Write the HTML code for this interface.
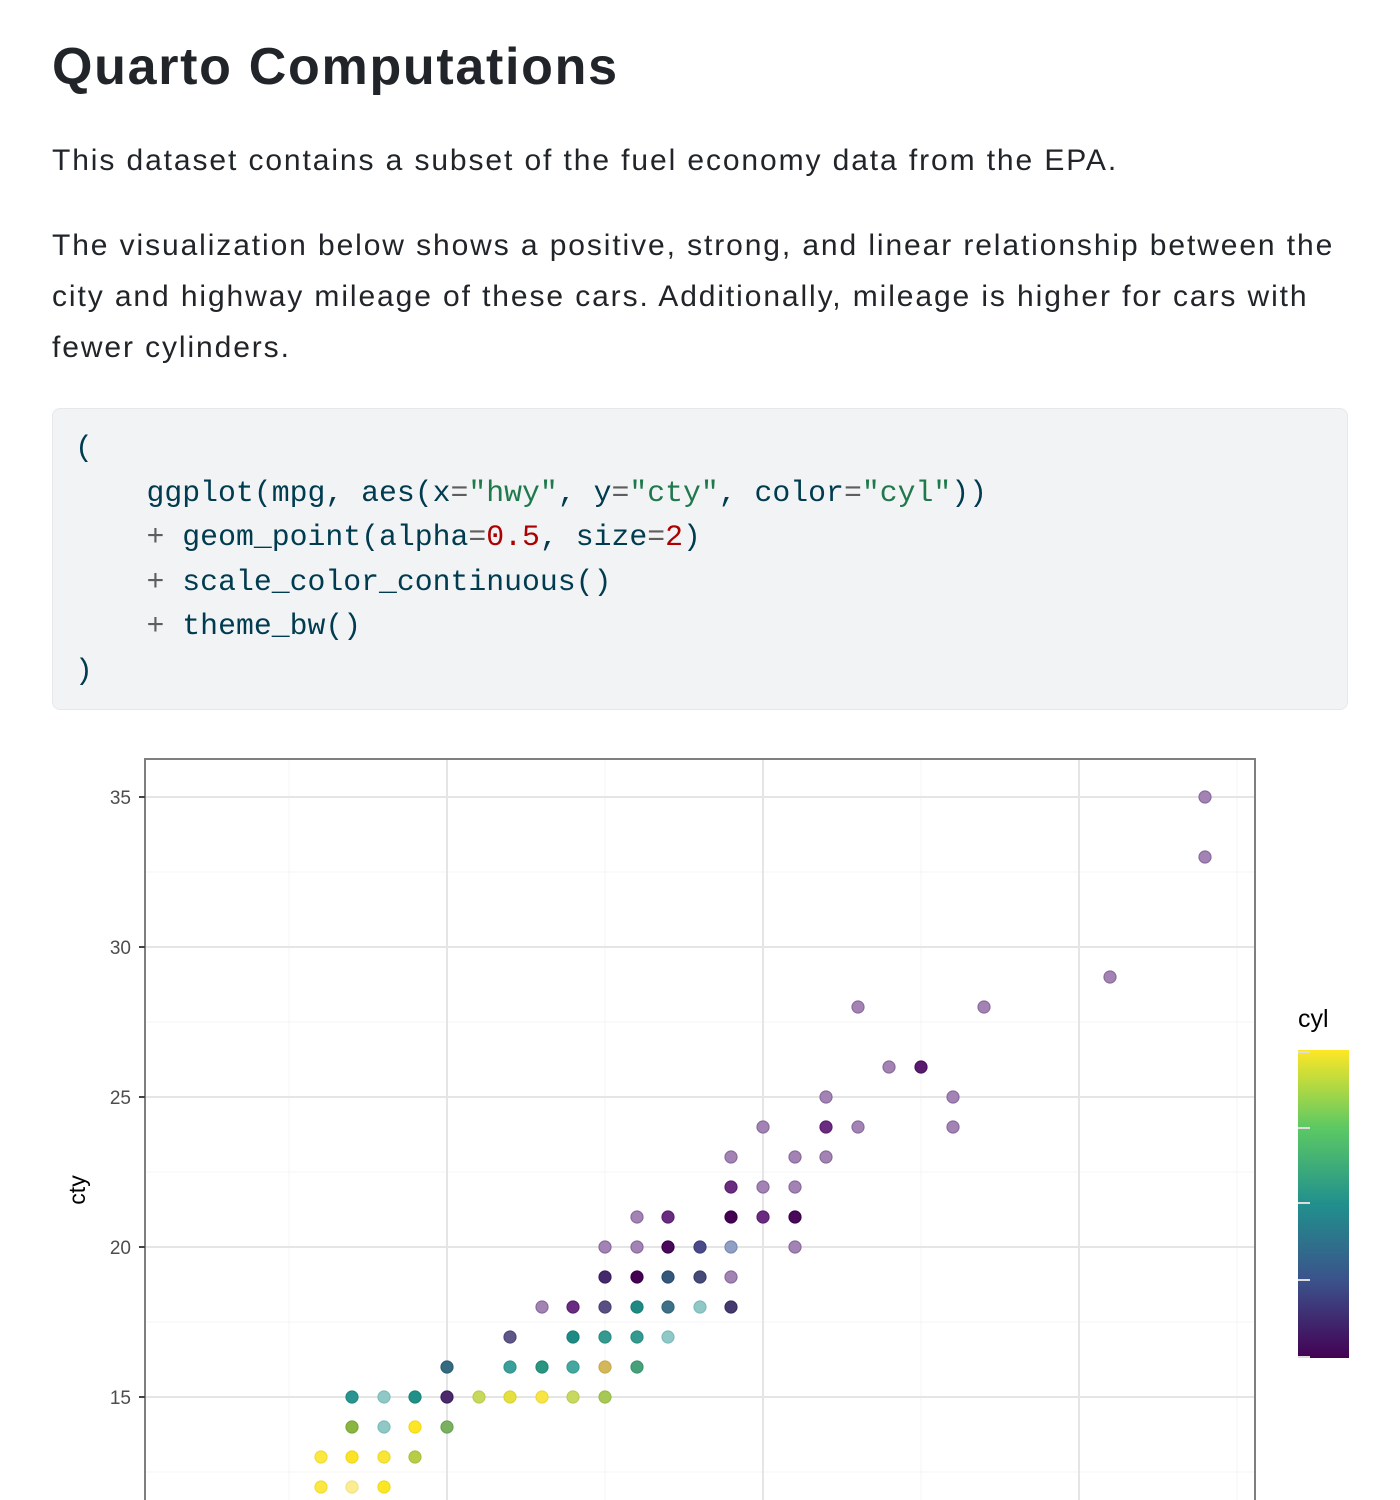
<!DOCTYPE html>
<html><head><meta charset="utf-8"><style>
html,body{margin:0;padding:0;background:#fff;width:1400px;height:1500px;overflow:hidden}
body{font-family:"Liberation Sans",sans-serif;color:#212529;position:relative}
h1{position:absolute;left:52px;top:35px;margin:0;font-size:52px;font-weight:bold;line-height:64px;letter-spacing:1.7px;white-space:nowrap}
p{position:absolute;left:52px;margin:0;font-size:30px;line-height:51px;width:1340px;letter-spacing:1.9px;white-space:nowrap}
.code{position:absolute;left:52px;top:408px;width:1294px;height:300px;background:#f1f3f5;border:1px solid #e6e8ea;border-radius:8px}
pre{margin:0;position:absolute;left:22px;top:17px;font-family:"Liberation Mono",monospace;font-size:29.8px;line-height:44.5px;color:#003b4f}
.s{color:#20794d}.n{color:#ad0000}.o{color:#5e5e5e}
</style></head><body>
<h1>Quarto Computations</h1>
<p style="top:135px">This dataset contains a subset of the fuel economy data from the EPA.</p>
<p style="top:220px">The visualization below shows a positive, strong, and linear relationship between the<br>city and highway mileage of these cars. Additionally, mileage is higher for cars with<br>fewer cylinders.</p>
<div class="code"><pre>(
    ggplot(mpg, aes(x<span class="o">=</span><span class="s">"hwy"</span>, y<span class="o">=</span><span class="s">"cty"</span>, color<span class="o">=</span><span class="s">"cyl"</span>))
    <span class="o">+</span> geom_point(alpha<span class="o">=</span><span class="n">0.5</span>, size<span class="o">=</span><span class="n">2</span>)
    <span class="o">+</span> scale_color_continuous()
    <span class="o">+</span> theme_bw()
)</pre></div>
<svg width="1400" height="1500" style="position:absolute;left:0;top:0" xmlns="http://www.w3.org/2000/svg">
<defs><linearGradient id="vg" x1="0" y1="1" x2="0" y2="0">
<stop offset="0" stop-color="#440154"/><stop offset="0.25" stop-color="#3b528b"/><stop offset="0.5" stop-color="#21908d"/><stop offset="0.75" stop-color="#5dc963"/><stop offset="1" stop-color="#fde725"/></linearGradient></defs>
<g stroke="#f4f4f4" stroke-width="1">
<line x1="145" x2="1255" y1="872" y2="872"/><line x1="145" x2="1255" y1="1022" y2="1022"/><line x1="145" x2="1255" y1="1172" y2="1172"/><line x1="145" x2="1255" y1="1322" y2="1322"/><line x1="145" x2="1255" y1="1472" y2="1472"/>
<line x1="289" x2="289" y1="759" y2="1500"/><line x1="605" x2="605" y1="759" y2="1500"/><line x1="921" x2="921" y1="759" y2="1500"/><line x1="1237" x2="1237" y1="759" y2="1500"/>
</g>
<g stroke="#e5e5e5" stroke-width="2">
<line x1="145" x2="1255" y1="797" y2="797"/><line x1="145" x2="1255" y1="947" y2="947"/><line x1="145" x2="1255" y1="1097" y2="1097"/><line x1="145" x2="1255" y1="1247" y2="1247"/><line x1="145" x2="1255" y1="1397" y2="1397"/>
<line x1="447" x2="447" y1="759" y2="1500"/><line x1="763" x2="763" y1="759" y2="1500"/><line x1="1079" x2="1079" y1="759" y2="1500"/>
</g>
<rect x="145" y="759" width="1110" height="760" fill="none" stroke="#7f7f7f" stroke-width="2"/>
<g stroke="#444" stroke-width="2"><line x1="139" x2="145" y1="797" y2="797"/><line x1="139" x2="145" y1="947" y2="947"/><line x1="139" x2="145" y1="1097" y2="1097"/><line x1="139" x2="145" y1="1247" y2="1247"/><line x1="139" x2="145" y1="1397" y2="1397"/></g>
<g font-family="Liberation Sans,sans-serif" font-size="19" fill="#4d4d4d" text-anchor="end">
<text x="131" y="804">35</text><text x="131" y="954">30</text><text x="131" y="1104">25</text><text x="131" y="1254">20</text><text x="131" y="1404">15</text></g>
<text transform="translate(85,1190) rotate(-90)" font-family="Liberation Sans,sans-serif" font-size="23" text-anchor="middle" fill="#000">cty</text>
<text x="1298" y="1027" font-family="Liberation Sans,sans-serif" font-size="25" fill="#000">cyl</text>
<rect x="1298" y="1050" width="51" height="308" fill="url(#vg)"/>
<g stroke="#ddd" stroke-width="2"><line x1="1298" x2="1310" y1="1128" y2="1128"/><line x1="1298" x2="1310" y1="1203" y2="1203"/><line x1="1298" x2="1310" y1="1280" y2="1280"/><line x1="1298" x2="1310" y1="1052" y2="1052"/><line x1="1298" x2="1310" y1="1357" y2="1357"/></g>
<g stroke-width="1.2">
<circle cx="1205" cy="797" r="6" fill="#a283b4" stroke="#8a6a9c"/>
<circle cx="1205" cy="857" r="6" fill="#a283b4" stroke="#8a6a9c"/>
<circle cx="1110" cy="977" r="6" fill="#a283b4" stroke="#8a6a9c"/>
<circle cx="858" cy="1007" r="6" fill="#a283b4" stroke="#8a6a9c"/>
<circle cx="984" cy="1007" r="6" fill="#a283b4" stroke="#8a6a9c"/>
<circle cx="889" cy="1067" r="6" fill="#a283b4" stroke="#8a6a9c"/>
<circle cx="921" cy="1067" r="6" fill="#5a1a6e" stroke="#4a105e"/>
<circle cx="826" cy="1097" r="6" fill="#a283b4" stroke="#8a6a9c"/>
<circle cx="953" cy="1097" r="6" fill="#a283b4" stroke="#8a6a9c"/>
<circle cx="763" cy="1127" r="6" fill="#a283b4" stroke="#8a6a9c"/>
<circle cx="826" cy="1127" r="6" fill="#6a2c80" stroke="#5a1e70"/>
<circle cx="858" cy="1127" r="6" fill="#a283b4" stroke="#8a6a9c"/>
<circle cx="953" cy="1127" r="6" fill="#a283b4" stroke="#8a6a9c"/>
<circle cx="731" cy="1157" r="6" fill="#a283b4" stroke="#8a6a9c"/>
<circle cx="795" cy="1157" r="6" fill="#a283b4" stroke="#8a6a9c"/>
<circle cx="826" cy="1157" r="6" fill="#a283b4" stroke="#8a6a9c"/>
<circle cx="731" cy="1187" r="6" fill="#6a2c80" stroke="#5a1e70"/>
<circle cx="763" cy="1187" r="6" fill="#a283b4" stroke="#8a6a9c"/>
<circle cx="795" cy="1187" r="6" fill="#a283b4" stroke="#8a6a9c"/>
<circle cx="637" cy="1217" r="6" fill="#a283b4" stroke="#8a6a9c"/>
<circle cx="668" cy="1217" r="6" fill="#6a2c80" stroke="#5a1e70"/>
<circle cx="731" cy="1217" r="6" fill="#440154" stroke="#3a0048"/>
<circle cx="763" cy="1217" r="6" fill="#6a2c80" stroke="#5a1e70"/>
<circle cx="795" cy="1217" r="6" fill="#4a0a5c" stroke="#3a0048"/>
<circle cx="605" cy="1247" r="6" fill="#a283b4" stroke="#8a6a9c"/>
<circle cx="637" cy="1247" r="6" fill="#a283b4" stroke="#8a6a9c"/>
<circle cx="668" cy="1247" r="6" fill="#4a0a5c" stroke="#3a0048"/>
<circle cx="700" cy="1247" r="6" fill="#4a4a8a" stroke="#3e3e7c"/>
<circle cx="731" cy="1247" r="6" fill="#8fa0c4" stroke="#7a8ab4"/>
<circle cx="795" cy="1247" r="6" fill="#a283b4" stroke="#8a6a9c"/>
<circle cx="605" cy="1277" r="6" fill="#442a6c" stroke="#3a1e60"/>
<circle cx="637" cy="1277" r="6" fill="#440154" stroke="#3a0048"/>
<circle cx="668" cy="1277" r="6" fill="#35587a" stroke="#2a4c6e"/>
<circle cx="700" cy="1277" r="6" fill="#454a78" stroke="#3a3e6c"/>
<circle cx="731" cy="1277" r="6" fill="#a283b4" stroke="#8a6a9c"/>
<circle cx="542" cy="1307" r="6" fill="#a283b4" stroke="#8a6a9c"/>
<circle cx="573" cy="1307" r="6" fill="#6a2c80" stroke="#5a1e70"/>
<circle cx="605" cy="1307" r="6" fill="#5a4f82" stroke="#4c4274"/>
<circle cx="637" cy="1307" r="6" fill="#1f8a84" stroke="#1a7e78"/>
<circle cx="668" cy="1307" r="6" fill="#3e7088" stroke="#33647c"/>
<circle cx="700" cy="1307" r="6" fill="#90c8c6" stroke="#7cbcba"/>
<circle cx="731" cy="1307" r="6" fill="#453a70" stroke="#382e64"/>
<circle cx="510" cy="1337" r="6" fill="#5e5788" stroke="#4e487a"/>
<circle cx="573" cy="1337" r="6" fill="#1f8a84" stroke="#1a7e78"/>
<circle cx="605" cy="1337" r="6" fill="#34998f" stroke="#2a8d84"/>
<circle cx="637" cy="1337" r="6" fill="#34998f" stroke="#2a8d84"/>
<circle cx="668" cy="1337" r="6" fill="#90c8c6" stroke="#7cbcba"/>
<circle cx="447" cy="1367" r="6" fill="#356a80" stroke="#2a5e74"/>
<circle cx="510" cy="1367" r="6" fill="#3ba09a" stroke="#2f948e"/>
<circle cx="542" cy="1367" r="6" fill="#2a9580" stroke="#208974"/>
<circle cx="573" cy="1367" r="6" fill="#45a8a0" stroke="#389c94"/>
<circle cx="605" cy="1367" r="6" fill="#d4b75a" stroke="#c8ab4e"/>
<circle cx="637" cy="1367" r="6" fill="#46a079" stroke="#3a946d"/>
<circle cx="352" cy="1397" r="6" fill="#2a9590" stroke="#208984"/>
<circle cx="384" cy="1397" r="6" fill="#90c8c6" stroke="#7cbcba"/>
<circle cx="415" cy="1397" r="6" fill="#219088" stroke="#1a847c"/>
<circle cx="447" cy="1397" r="6" fill="#4a2a6a" stroke="#3e1e5e"/>
<circle cx="479" cy="1397" r="6" fill="#c8d85a" stroke="#bccc4e"/>
<circle cx="510" cy="1397" r="6" fill="#e4e040" stroke="#d8d434"/>
<circle cx="542" cy="1397" r="6" fill="#f8e545" stroke="#ecd939"/>
<circle cx="573" cy="1397" r="6" fill="#c8d860" stroke="#bccc54"/>
<circle cx="605" cy="1397" r="6" fill="#a8c855" stroke="#9cbc49"/>
<circle cx="352" cy="1427" r="6" fill="#8ab640" stroke="#7aa634"/>
<circle cx="384" cy="1427" r="6" fill="#90c8c6" stroke="#7cbcba"/>
<circle cx="415" cy="1427" r="6" fill="#fde725" stroke="#f0da1a"/>
<circle cx="447" cy="1427" r="6" fill="#7ab060" stroke="#6aa454"/>
<circle cx="321" cy="1457" r="6" fill="#fce840" stroke="#f0dc34"/>
<circle cx="352" cy="1457" r="6" fill="#fde325" stroke="#f0d61a"/>
<circle cx="384" cy="1457" r="6" fill="#f8e535" stroke="#ecd929"/>
<circle cx="415" cy="1457" r="6" fill="#b8cc48" stroke="#acc03c"/>
<circle cx="321" cy="1487" r="6" fill="#fce840" stroke="#f0dc34"/>
<circle cx="352" cy="1487" r="6" fill="#fcee90" stroke="#f0e284"/>
<circle cx="384" cy="1487" r="6" fill="#fde725" stroke="#f0da1a"/>
</g>
</svg>
</body></html>
